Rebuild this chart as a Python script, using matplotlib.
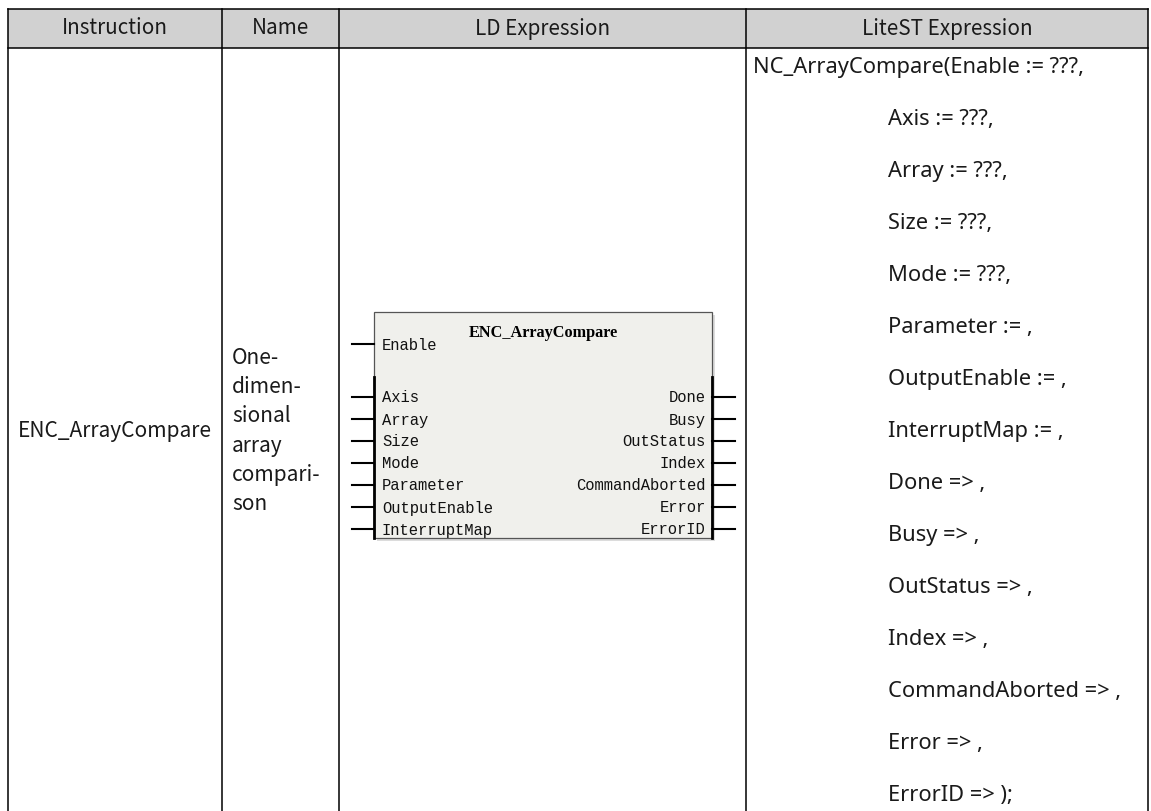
import matplotlib
matplotlib.use("Agg")
import matplotlib.pyplot as plt
from matplotlib.patches import Rectangle

# ---------------- data ----------------
headers = ["Instruction", "Name", "LD Expression", "LiteST Expression"]
instruction = "ENC_ArrayCompare"
name_lines = ["One-", "dimen-", "sional", "array", "compari-", "son"]
block_title = "ENC_ArrayCompare"
block_enable = "Enable"
block_inputs = ["Axis", "Array", "Size", "Mode", "Parameter", "OutputEnable", "InterruptMap"]
block_outputs = ["Done", "Busy", "OutStatus", "Index", "CommandAborted", "Error", "ErrorID"]
st_lines = ["NC_ArrayCompare(Enable := ???,", "Axis := ???,", "Array := ???,", "Size := ???,",
            "Mode := ???,", "Parameter := ,", "OutputEnable := ,", "InterruptMap := ,",
            "Done => ,", "Busy => ,", "OutStatus => ,", "Index => ,",
            "CommandAborted => ,", "Error => ,", "ErrorID => );"]

# ---------------- layout ----------------
W, H = 1151, 811
fig = plt.figure(figsize=(W / 100, H / 100), dpi=100)
ax = fig.add_axes([0, 0, 1, 1])
ax.set_xlim(0, W)
ax.set_ylim(H, 0)
ax.axis("off")
renderer = fig.canvas.get_renderer()

SANS = ["Noto Sans CJK SC", "DejaVu Sans"]
ST_FONT = ["Noto Sans", "DejaVu Sans"]
MONO = ["Liberation Mono", "DejaVu Sans Mono"]
SERIF = ["Liberation Serif", "DejaVu Serif"]


def fit_size(text, family, target_px, weight="normal"):
    t = ax.text(0, 0, text, family=family, fontsize=10, weight=weight)
    w = t.get_window_extent(renderer).width
    t.remove()
    return 10 * target_px / w


cols = [8, 222, 339, 746, 1148]
top, head_bot, bot = 9, 48, 811
lw = 1.1

# header background
ax.add_patch(Rectangle((cols[0], top), cols[-1] - cols[0], head_bot - top,
                       facecolor="#d1d1d1", edgecolor="none", zorder=0))
# grid lines
ax.plot([cols[0], cols[-1]], [top, top], color="black", lw=lw)
ax.plot([cols[0], cols[-1]], [head_bot, head_bot], color="black", lw=lw)
for x in cols:
    ax.plot([x, x], [top, bot], color="black", lw=lw)

head_fs = fit_size("Instruction", SANS, 106)
for i, h in enumerate(headers):
    ax.text((cols[i] + cols[i + 1]) / 2, 28.5, h, family=SANS, fontsize=head_fs,
            ha="center", va="center", color="#1a1a1a")

body_fs = fit_size(instruction, SANS, 194)
ax.text(cols[0] + 10, 431, instruction, family=SANS, fontsize=body_fs,
        ha="left", va="center", color="#1a1a1a")

name_y0, name_dy = 358, 29.2
for i, s in enumerate(name_lines):
    ax.text(232, name_y0 + i * name_dy, s, family=SANS, fontsize=body_fs,
            ha="left", va="center", color="#1a1a1a")

# LiteST column
st_fs = fit_size(st_lines[0], ST_FONT, 330)
st_y0, st_dy = 67, 52.0
for i, s in enumerate(st_lines):
    x = 753 if i == 0 else 888
    ax.text(x, st_y0 + i * st_dy, s, family=ST_FONT, fontsize=st_fs,
            ha="left", va="center", color="#1a1a1a")

# ---------------- function block ----------------
bx0, bx1, by0, by1 = 374, 712, 312, 538
thick_y = 377
ax.add_patch(Rectangle((bx0 + 3, by0 + 3), bx1 - bx0, by1 - by0,
                       facecolor="#dcdcdc", edgecolor="none", zorder=1))
ax.add_patch(Rectangle((bx0, by0), bx1 - bx0, by1 - by0,
                       facecolor="#f0f0ec", edgecolor="#555555", lw=0.9, zorder=2))
ax.plot([bx0, bx0], [thick_y, by1], color="black", lw=2.0, zorder=3)
ax.plot([bx1, bx1], [thick_y, by1], color="black", lw=2.0, zorder=3)

mono_fs = fit_size("CommandAborted", MONO, 131)
title_fs = fit_size(block_title, SERIF, 150, weight="bold")
ax.text((bx0 + bx1) / 2, 333, block_title, family=SERIF, fontsize=title_fs,
        weight="bold", ha="center", va="center", color="black", zorder=4)

pin_l0, pin_r1 = 352, 735
enable_y = 344
ax.plot([pin_l0, bx0], [enable_y, enable_y], color="black", lw=1.5, zorder=3)
ax.text(bx0 + 8, enable_y + 2, block_enable, family=MONO, fontsize=mono_fs,
        ha="left", va="center", color="#111111", zorder=4)

pin_y0, pin_dy = 397, 22.0
for i, s in enumerate(block_inputs):
    y = pin_y0 + i * pin_dy
    ax.plot([pin_l0, bx0], [y, y], color="black", lw=1.5, zorder=3)
    ax.text(bx0 + 8, y + 1, s, family=MONO, fontsize=mono_fs,
            ha="left", va="center", color="#111111", zorder=4)
for i, s in enumerate(block_outputs):
    y = pin_y0 + i * pin_dy
    ax.plot([bx1, pin_r1], [y, y], color="black", lw=1.5, zorder=3)
    ax.text(bx1 - 6, y + 1, s, family=MONO, fontsize=mono_fs,
            ha="right", va="center", color="#111111", zorder=4)

fig.savefig("out.png", dpi=100, facecolor="white")
